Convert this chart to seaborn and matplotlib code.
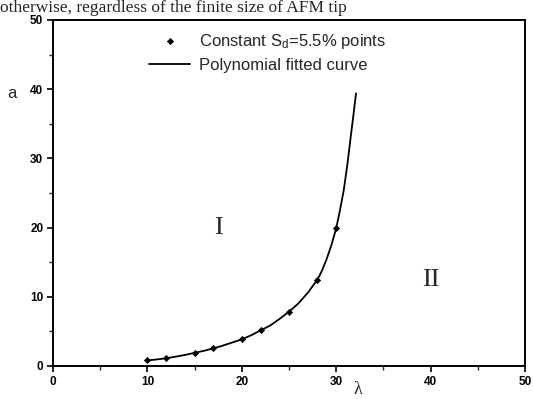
import matplotlib
matplotlib.use("Agg")
import matplotlib.pyplot as plt
import seaborn as sns
import pandas as pd
from matplotlib.ticker import MultipleLocator

# data
lam_points = [10, 12, 15, 17, 20, 22, 25, 28, 30]
a_points = [0.8, 1.1, 1.9, 2.55, 3.85, 5.15, 7.85, 12.45, 19.9]

lam_curve = [10, 11, 12, 13, 14, 15, 16, 17, 18, 19, 20, 21, 22, 23, 24, 25,
             26, 27, 28, 28.5, 29, 29.5, 30, 30.4, 30.8, 31.2, 31.5, 31.8, 32.1]
a_curve = [0.8, 0.95, 1.12, 1.35, 1.6, 1.9, 2.2, 2.55, 2.95, 3.4, 3.85, 4.45, 5.15,
           5.85, 6.8, 7.85, 9.05, 10.6, 12.45, 13.8, 15.5, 17.5, 19.9, 22.5, 25.4,
           29.3, 32.7, 36.0, 39.4]

x_ticks = [0, 10, 20, 30, 40, 50]
y_ticks = [0, 10, 20, 30, 40, 50]

sns.set_style("ticks")
plt.rcParams['font.family'] = ['Liberation Sans', 'DejaVu Sans']
plt.rcParams['mathtext.default'] = 'regular'

fig = plt.figure(figsize=(5.33, 3.99), dpi=100)
ax = fig.add_axes([53/533, 1-366/399, (525-53)/533, (366-20)/399])

df_pts = pd.DataFrame({"lam": lam_points, "a": a_points})
df_cur = pd.DataFrame({"lam": lam_curve, "a": a_curve})

sns.lineplot(data=df_cur, x="lam", y="a", ax=ax, color="black", lw=1.3,
             label="Polynomial fitted curve", sort=False)
sns.scatterplot(data=df_pts, x="lam", y="a", ax=ax, color="black", marker="D",
                s=10, edgecolor="black", linewidth=0.5,
                label="Constant S$_{d}$=5.5% points", zorder=3)

ax.set_xlim(0, 50)
ax.set_ylim(0, 50)
ax.set_xticks(x_ticks)
ax.set_yticks(y_ticks)
ax.xaxis.set_minor_locator(MultipleLocator(5))
ax.yaxis.set_minor_locator(MultipleLocator(5))
ax.tick_params(which='major', direction='out', length=4, width=1.2, labelsize=8.5,
               pad=3, colors='black')
ax.tick_params(which='minor', direction='out', length=3, width=1.0)
for lab in ax.get_xticklabels() + ax.get_yticklabels():
    lab.set_fontweight('bold')
for s in ax.spines.values():
    s.set_visible(True)
    s.set_linewidth(1.4)
    s.set_color('black')

ax.set_xlabel("")
ax.set_ylabel("")
fig.text(12/533, 1-93/399, "a", fontsize=12, ha='center', va='center')
fig.text(358/533, 1-390/399, "λ", fontsize=13, ha='center', va='center',
         family='Liberation Serif')

ax.text(17.5, 20, "I", fontsize=19, family='Liberation Serif', ha='center', va='center')
ax.text(40, 12.5, "II", fontsize=19, family='Liberation Serif', ha='center', va='center')

h, l = ax.get_legend_handles_labels()
order = [1, 0]
leg = ax.legend([h[i] for i in order], [l[i] for i in order], frameon=False,
                loc='upper left', bbox_to_anchor=(0.178, 1.0), fontsize=12,
                handlelength=2.5, handletextpad=0.5, labelspacing=0.45,
                borderaxespad=0.3)

fig.text(0.0, 1-12/399, "otherwise, regardless of the finite size of AFM tip",
         fontsize=12.5, family='Liberation Serif', va='baseline', ha='left')

fig.savefig("out.png", dpi=100)
